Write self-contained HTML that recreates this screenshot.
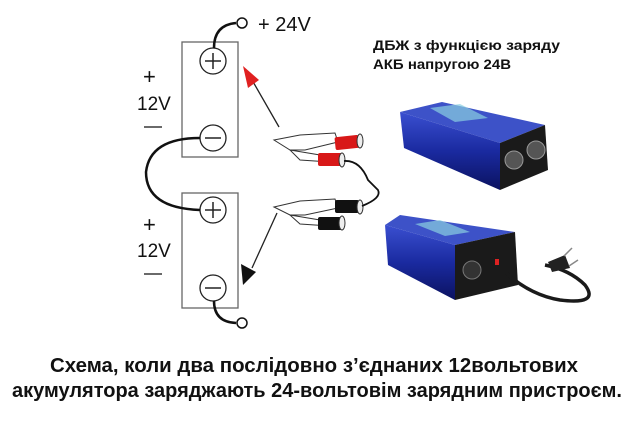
<!DOCTYPE html>
<html><head><meta charset="utf-8"><style>
html,body{margin:0;padding:0;background:#fff;width:640px;height:426px;overflow:hidden}
svg text{font-family:"Liberation Sans",sans-serif}
</style></head><body>
<svg width="640" height="426" viewBox="0 0 640 426">
<defs>
<linearGradient id="blu" x1="0" y1="0" x2="0" y2="1">
<stop offset="0" stop-color="#3a4fd0"/><stop offset="0.5" stop-color="#1a2aa0"/><stop offset="1" stop-color="#0b1260"/></linearGradient>
</defs>
<rect x="182" y="42" width="56" height="115" fill="#fff" stroke="#666" stroke-width="1.3"/>
<rect x="182" y="193" width="56" height="115" fill="#fff" stroke="#666" stroke-width="1.3"/>
<g fill="#fff" stroke="#222" stroke-width="1.3">
<circle cx="213" cy="61" r="13"/><circle cx="213" cy="138" r="13"/>
<circle cx="213" cy="210" r="13"/><circle cx="213" cy="288" r="13"/>
</g>
<g stroke="#222" stroke-width="1.5">
<line x1="205" y1="61" x2="221" y2="61"/><line x1="213" y1="53" x2="213" y2="69"/>
<line x1="205" y1="138" x2="221" y2="138"/>
<line x1="205" y1="210" x2="221" y2="210"/><line x1="213" y1="202" x2="213" y2="218"/>
<line x1="205" y1="288" x2="221" y2="288"/>
</g>
<g fill="none" stroke="#111" stroke-width="2.5">
<path d="M214 48 Q214 25 236 23"/>
<path d="M214 301 Q214 322 236 323"/>
<path d="M200 138 Q150 138 146 172 Q146 208 200 210"/>
</g>
<circle cx="242" cy="23" r="5" fill="#fff" stroke="#111" stroke-width="1.5"/>
<circle cx="242" cy="323" r="5" fill="#fff" stroke="#111" stroke-width="1.5"/>
<text x="258" y="31" font-size="20" fill="#111">+ 24V</text>
<text x="143" y="84" font-size="22" fill="#111">+</text>
<text x="137" y="110" font-size="19" fill="#111">12V</text>
<line x1="144" y1="127" x2="162" y2="127" stroke="#111" stroke-width="1.3"/>
<text x="143" y="232" font-size="22" fill="#111">+</text>
<text x="137" y="257" font-size="19" fill="#111">12V</text>
<line x1="144" y1="274" x2="162" y2="274" stroke="#111" stroke-width="1.3"/>
<line x1="279" y1="127" x2="252" y2="80" stroke="#222" stroke-width="1.3"/>
<polygon points="243,66 259,80 248,88" fill="#e02020"/>
<line x1="277" y1="213" x2="252" y2="268" stroke="#222" stroke-width="1.3"/>
<polygon points="243,285 241,264 256,272" fill="#111"/>
<g stroke="#333" stroke-width="1" fill="#fff">
<path d="M274 140 L300 135 L335 133 L338 142 L305 150 L290 150 Z"/>
<path d="M290 150 L320 155 L330 162 L300 160 Z"/>
<path d="M274 207 L300 201 L335 199 L338 208 L305 215 L290 215 Z"/>
<path d="M290 215 L320 220 L330 226 L300 224 Z"/>
</g>
<rect x="335" y="136" width="24" height="13" fill="#d81818" rx="2" transform="rotate(-6 347 142)"/>
<ellipse cx="360" cy="141" rx="3" ry="7" fill="#eee" stroke="#333"/>
<rect x="318" y="153" width="24" height="13" fill="#d81818" rx="2"/>
<ellipse cx="342" cy="160" rx="3" ry="7" fill="#eee" stroke="#333"/>
<rect x="335" y="200" width="24" height="13" fill="#111" rx="2"/>
<ellipse cx="360" cy="207" rx="3" ry="7" fill="#eee" stroke="#333"/>
<rect x="318" y="217" width="24" height="13" fill="#111" rx="2"/>
<ellipse cx="342" cy="223" rx="3" ry="7" fill="#eee" stroke="#333"/>
<path d="M344 161 Q360 160 368 180 L378 190 Q382 198 362 206" fill="none" stroke="#111" stroke-width="1.8"/>
<polygon points="400,112 442,102 545,125 500,143" fill="#3d52c8"/>
<polygon points="400,112 500,143 500,190 404,148" fill="url(#blu)"/>
<polygon points="500,143 545,125 548,170 500,190" fill="#1a1a1a"/>
<circle cx="514" cy="160" r="9" fill="#555" stroke="#999"/>
<circle cx="536" cy="150" r="9" fill="#555" stroke="#999"/>
<polygon points="430,108 460,104 488,118 455,122" fill="#8ad0e0" opacity="0.7"/>
<polygon points="385,225 400,215 515,232 455,245" fill="#3d52c8"/>
<polygon points="385,225 455,245 455,300 388,265" fill="url(#blu)"/>
<polygon points="455,245 515,232 518,285 455,300" fill="#1a1a1a"/>
<circle cx="472" cy="270" r="9" fill="#333" stroke="#777"/>
<rect x="495" y="259" width="4" height="6" fill="#d22"/>
<polygon points="415,224 440,220 470,232 445,236" fill="#8ad0e0" opacity="0.7"/>
<path d="M505 272 Q530 295 560 300 Q600 305 585 285 Q570 270 545 265" fill="none" stroke="#1a1a1a" stroke-width="3.5"/>
<path d="M548 262 L565 255 L570 268 L552 272 Z" fill="#222"/>
<line x1="564" y1="256" x2="572" y2="248" stroke="#888" stroke-width="1.5"/>
<line x1="569" y1="266" x2="578" y2="260" stroke="#888" stroke-width="1.5"/>
<text x="373" y="50" font-size="13.5" font-weight="bold" fill="#111" textLength="187" lengthAdjust="spacingAndGlyphs">ДБЖ з функцією заряду</text>
<text x="373" y="69" font-size="13.5" font-weight="bold" fill="#111" textLength="138" lengthAdjust="spacingAndGlyphs">АКБ напругою 24В</text>
<text x="50" y="372" font-size="20" font-weight="bold" fill="#111" textLength="528" lengthAdjust="spacingAndGlyphs">Схема, коли два послідовно з’єднаних 12вольтових</text>
<text x="12" y="397" font-size="20" font-weight="bold" fill="#111" textLength="610" lengthAdjust="spacingAndGlyphs">акумулятора заряджають 24-вольтовім зарядним пристроєм.</text>
</svg>
</body></html>
